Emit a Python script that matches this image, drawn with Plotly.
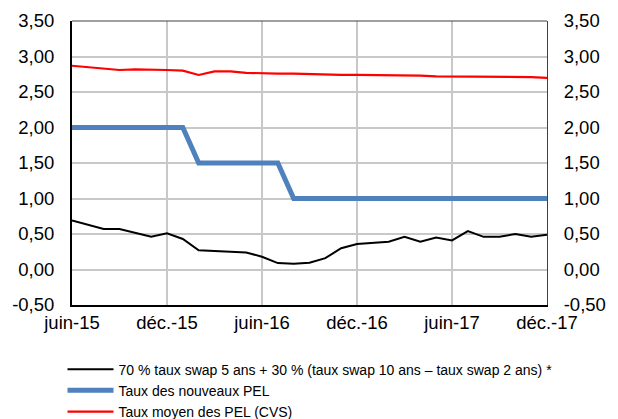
import plotly.graph_objects as go

months = ["juin-15", "juil.-15", "août-15", "sept.-15", "oct.-15", "nov.-15", "déc.-15",
          "janv.-16", "févr.-16", "mars-16", "avr.-16", "mai-16", "juin-16",
          "juil.-16", "août-16", "sept.-16", "oct.-16", "nov.-16", "déc.-16",
          "janv.-17", "févr.-17", "mars-17", "avr.-17", "mai-17", "juin-17",
          "juil.-17", "août-17", "sept.-17", "oct.-17", "nov.-17", "déc.-17"]

swap = [0.69, 0.63, 0.57, 0.57, 0.51, 0.46, 0.51,
        0.43, 0.27, 0.26, 0.245, 0.24, 0.18,
        0.09, 0.08, 0.095, 0.16, 0.30, 0.36,
        0.37, 0.39, 0.46, 0.39, 0.45, 0.41,
        0.54, 0.46, 0.46, 0.50, 0.46, 0.49]

pel_new = [2.00, 2.00, 2.00, 2.00, 2.00, 2.00, 2.00,
           2.00, 1.50, 1.50, 1.50, 1.50, 1.50,
           1.50, 1.00, 1.00, 1.00, 1.00, 1.00,
           1.00, 1.00, 1.00, 1.00, 1.00, 1.00,
           1.00, 1.00, 1.00, 1.00, 1.00, 1.00]

pel_avg = [2.87, 2.85, 2.84, 2.81, 2.82, 2.82, 2.81,
           2.80, 2.74, 2.79, 2.79, 2.77, 2.76,
           2.76, 2.76, 2.75, 2.75, 2.74, 2.74,
           2.74, 2.73, 2.73, 2.73, 2.72, 2.72,
           2.72, 2.72, 2.71, 2.71, 2.71, 2.70]

tick_months = months[::6]
y_ticks = [-0.5, 0, 0.5, 1, 1.5, 2, 2.5, 3, 3.5]
y_labels = ["-0,50", "0,00", "0,50", "1,00", "1,50", "2,00", "2,50", "3,00", "3,50"]

fig = go.Figure()
fig.add_trace(go.Scatter(x=months, y=swap, mode="lines",
                         name="70 % taux swap 5 ans + 30 % (taux swap 10 ans – taux swap 2 ans) *",
                         line=dict(color="#000000", width=2)))
fig.add_trace(go.Scatter(x=months, y=pel_new, mode="lines", name="Taux des nouveaux PEL",
                         line=dict(color="#4F81BD", width=5)))
fig.add_trace(go.Scatter(x=months, y=pel_avg, mode="lines", name="Taux moyen des PEL (CVS)",
                         line=dict(color="#FF0000", width=2.2)))
# invisible trace for right axis labels
fig.add_trace(go.Scatter(x=months, y=pel_avg, yaxis="y2", mode="lines",
                         line=dict(color="rgba(0,0,0,0)"), showlegend=False, hoverinfo="skip"))

font = "Liberation Sans, Arial, sans-serif"
fig.update_layout(
    width=618, height=419,
    margin=dict(l=72, r=71, t=21, b=114, autoexpand=False),
    paper_bgcolor="white", plot_bgcolor="white",
    font=dict(family=font, color="#000000", size=18),
    xaxis=dict(type="category", range=[0, 30], tickmode="array",
               tickvals=tick_months, ticktext=tick_months,
               showgrid=True, gridcolor="#C8C8C8", gridwidth=2,
               showline=True, linecolor="#000000", linewidth=2,
               ticks="", tickfont=dict(size=18.5)),
    yaxis=dict(range=[-0.5, 3.5], tickmode="array", tickvals=y_ticks, ticktext=y_labels,
               showgrid=True, gridcolor="#C8C8C8", gridwidth=2, zeroline=False,
               showline=True, linecolor="#000000", linewidth=2,
               ticks="", ticklabelstandoff=12, tickfont=dict(size=18.5)),
    yaxis2=dict(range=[-0.5, 3.5], overlaying="y", side="right", tickmode="array",
                tickvals=y_ticks, ticktext=y_labels, showgrid=False, zeroline=False,
                showline=True, linecolor="#404040", linewidth=1,
                ticks="", ticklabelstandoff=12, tickfont=dict(size=18.5)),
    legend=dict(x=-0.02, y=-0.171, xanchor="left", yanchor="top", itemwidth=46,
                font=dict(size=14), tracegroupgap=0, bgcolor="rgba(0,0,0,0)"),
    shapes=[dict(type="line", xref="paper", yref="paper", x0=0, x1=1, y0=1, y1=1,
                 line=dict(color="#404040", width=1))],
)
fig.write_html("out.html", config={"displayModeBar": False},
               post_script="document.body.style.margin='0';document.body.style.padding='0';")
